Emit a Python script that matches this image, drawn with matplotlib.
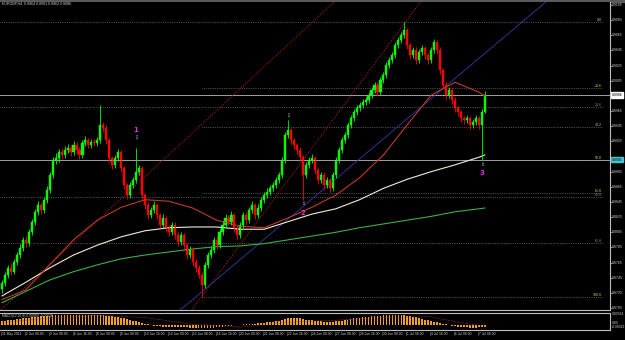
import numpy as np
import matplotlib
matplotlib.use("Agg")
import matplotlib.pyplot as plt
from matplotlib.patches import Rectangle

# ---------------- data (prices in pips, /10000) ----------------
close_pips = [8738, 8749, 8758, 8753, 8766, 8775, 8784, 8795, 8791, 8805,
              8819, 8832, 8841, 8834, 8848, 8861, 8881, 8900, 8903, 8911,
              8907, 8914, 8916, 8911, 8920, 8914, 8907, 8923, 8927, 8920,
              8924, 8923, 8927, 8947, 8943, 8927, 8903, 8894, 8903, 8911,
              8890, 8867, 8854, 8867, 8874, 8885, 8890, 8854, 8841, 8828,
              8834, 8841, 8828, 8815, 8824, 8811, 8805, 8815, 8801, 8792,
              8801, 8788, 8775, 8782, 8766, 8758, 8749, 8735, 8762, 8775,
              8782, 8795, 8788, 8805, 8815, 8824, 8819, 8828, 8811, 8801,
              8815, 8828, 8821, 8834, 8841, 8828, 8837, 8848, 8854, 8858,
              8863, 8867, 8874, 8881, 8900, 8933, 8940, 8927, 8920, 8914,
              8904, 8881, 8894, 8900, 8903, 8887, 8874, 8881, 8867, 8874,
              8863, 8881, 8900, 8914, 8927, 8933, 8947, 8956, 8964, 8969,
              8973, 8977, 8980, 8986, 8993, 9000, 8990, 9006, 9013, 9026,
              9032, 9039, 9052, 9059, 9065, 9072, 9052, 9039, 9046, 9032,
              9043, 9048, 9039, 9032, 9046, 9056, 9046, 9019, 9000, 8986,
              8993, 8980, 8969, 8964, 8956, 8953, 8956, 8947, 8951, 8956,
              8947, 8964, 8986]
high_pips = [8742, 8753, 8762, 8764, 8770, 8779, 8789, 8799, 8800, 8809,
             8823, 8836, 8846, 8844, 8852, 8866, 8885, 8905, 8910, 8915,
             8916, 8919, 8922, 8920, 8925, 8924, 8917, 8927, 8932, 8930,
             8928, 8928, 8931, 8973, 8951, 8946, 8930, 8906, 8907, 8915,
             8914, 8893, 8870, 8871, 8878, 8916, 8894, 8893, 8857, 8845,
             8839, 8846, 8844, 8831, 8829, 8827, 8814, 8819, 8818, 8805,
             8806, 8804, 8791, 8787, 8785, 8770, 8762, 8752, 8766, 8779,
             8787, 8799, 8800, 8809, 8820, 8829, 8828, 8833, 8831, 8814,
             8819, 8832, 8832, 8838, 8846, 8844, 8842, 8852, 8858, 8863,
             8867, 8872, 8878, 8885, 8904, 8937, 8953, 8943, 8930, 8923,
             8917, 8907, 8898, 8905, 8908, 8906, 8890, 8885, 8884, 8878,
             8877, 8885, 8904, 8918, 8931, 8938, 8951, 8960, 8968, 8973,
             8977, 8981, 8984, 8990, 8997, 9004, 9003, 9010, 9017, 9030,
             9036, 9043, 9056, 9063, 9070, 9083, 9075, 9055, 9050, 9049,
             9047, 9052, 9051, 9042, 9050, 9060, 9059, 9049, 9022, 9003,
             8997, 8996, 8983, 8972, 8967, 8959, 8960, 8959, 8955, 8960,
             8959, 8968, 8991]
low_pips = [8725, 8734, 8745, 8748, 8750, 8762, 8771, 8780, 8786, 8787,
            8801, 8815, 8828, 8829, 8830, 8844, 8857, 8877, 8895, 8898,
            8902, 8903, 8910, 8906, 8907, 8909, 8902, 8903, 8919, 8916,
            8916, 8919, 8919, 8923, 8938, 8922, 8898, 8889, 8890, 8899,
            8885, 8862, 8849, 8850, 8863, 8870, 8880, 8849, 8836, 8823,
            8824, 8830, 8823, 8810, 8811, 8806, 8800, 8801, 8796, 8787,
            8788, 8783, 8770, 8771, 8761, 8753, 8744, 8720, 8731, 8758,
            8771, 8778, 8783, 8784, 8801, 8811, 8814, 8815, 8806, 8796,
            8797, 8811, 8816, 8817, 8830, 8823, 8824, 8833, 8844, 8850,
            8854, 8859, 8863, 8870, 8877, 8896, 8929, 8922, 8915, 8909,
            8899, 8848, 8877, 8890, 8896, 8882, 8869, 8870, 8862, 8863,
            8858, 8859, 8877, 8896, 8910, 8923, 8929, 8943, 8952, 8960,
            8965, 8969, 8973, 8976, 8982, 8989, 8985, 8986, 9002, 9009,
            9022, 9028, 9035, 9048, 9055, 9061, 9047, 9034, 9035, 9027,
            9028, 9039, 9034, 9027, 9028, 9042, 9041, 9014, 8995, 8981,
            8982, 8975, 8964, 8959, 8951, 8948, 8949, 8942, 8943, 8947,
            8942, 8900, 8962]
first_open_pips = 8730

# moving averages sampled every 8 bars
ma_bars = [0, 8, 16, 24, 32, 40, 48, 56, 64, 72, 80, 88, 96, 104, 112, 120,
           128, 136, 144, 152, 160, 162]
ma_red_pips = [8716, 8729, 8762, 8795, 8821, 8838, 8848, 8846, 8837, 8821, 8813,
               8811, 8824, 8838, 8854, 8877, 8907, 8947, 8986, 9003, 8990, 8985]
ma_white_pips = [8721, 8739, 8758, 8775, 8788, 8799, 8807, 8811, 8812, 8812, 8809,
                 8809, 8819, 8829, 8836, 8848, 8863, 8875, 8885, 8894, 8904, 8907]
ma_green_pips = [8712, 8727, 8742, 8753, 8762, 8770, 8775, 8779, 8783, 8786, 8787,
                 8790, 8795, 8800, 8805, 8811, 8816, 8821, 8826, 8832, 8836, 8837]

# MACD histogram (units of 0.0001)
macd_hist = [12, 13, 14, 15, 16, 17, 18, 19, 20, 21, 22, 23, 24, 25, 26, 27,
             27, 28, 28, 29, 29, 30, 30, 30, 30, 30, 30, 30, 29, 29, 29, 28,
             28, 28, 28, 27, 26, 25, 24, 23, 21, 19, 17, 15, 13, 11, 9, 7,
             4, 2, 0, -2, -3, -4, -5, -5, -6, -6, -6, -7, -7, -7, -7, -8,
             -8, -8, -8, -9, -9, -9, -8, -8, -7, -6, -5, -4, -3, -2, -1, 0,
             1, 2, 2, 3, 3, 4, 5, 6, 7, 8, 9, 10, 11, 13, 15, 18,
             20, 21, 21, 20, 19, 18, 16, 15, 14, 13, 12, 11, 10, 9, 9, 10,
             11, 12, 13, 15, 16, 18, 19, 20, 21, 22, 23, 24, 25, 26, 27, 27,
             28, 28, 29, 29, 29, 29, 29, 28, 27, 26, 24, 22, 20, 18, 16, 14,
             12, 10, 8, 6, 4, 2, 0, -2, -4, -5, -6, -7, -7, -8, -8, -8,
             -7, -7, -6]
sig_bars = [0, 16, 32, 48, 64, 80, 96, 112, 128, 144, 152, 162]
macd_signal = [8, 20, 28, 22, 2, -6, 8, 14, 22, 24, 10, -4]

# price scale labels, fib levels, dates
price_ticks = [0.9105, 0.9085, 0.9065, 0.9045, 0.9025, 0.9005, 0.8985, 0.8965,
               0.8945, 0.8925, 0.8905, 0.8885, 0.8865, 0.8845, 0.8825, 0.8805,
               0.8785, 0.8765, 0.8745, 0.8725, 0.8705]
fib_yellow_levels = ["0.0", "23.6", "38.2", "50.0", "61.8", "100.0"]
fib_yellow_prices = [0.9083, 0.8995, 0.8944, 0.8901, 0.8857, 0.8720]
fib_grey_levels = ["23.6", "50.0", "61.8"]
fib_grey_prices = [0.8970, 0.8851, 0.8791]
date_labels = ["31 May 2011", "2 Jun 00:00", "3 Jun 08:00", "6 Jun 16:00",
               "8 Jun 00:00", "9 Jun 08:00", "10 Jun 16:00", "14 Jun 00:00",
               "15 Jun 08:00", "16 Jun 16:00", "20 Jun 00:00", "21 Jun 08:00",
               "22 Jun 16:00", "24 Jun 00:00", "27 Jun 08:00", "28 Jun 16:00",
               "30 Jun 00:00", "1 Jul 08:00", "4 Jul 16:00", "6 Jul 00:00",
               "7 Jul 08:00"]
wave_labels = ["1", "2", "3"]
wave_bars = [45, 101, 161]

# ---------------- preparation ----------------
close = np.array(close_pips) / 10000.0
high = np.array(high_pips) / 10000.0
low = np.array(low_pips) / 10000.0
opn = np.concatenate([[first_open_pips / 10000.0], close[:-1]])
n = len(close)
idx = np.arange(n)

FONT = "Liberation Sans"
W, H = 625, 340
fig = plt.figure(figsize=(W / 100, H / 100), dpi=100, facecolor="black")

def fx(px):
    return px / W

def fy(py):
    return 1 - py / H

# main panel: y from 2 to 310 px, x from 0 to 609.5 px
ax = fig.add_axes([0, fy(310), fx(609.5), (310 - 2) / H], facecolor="black")
bar_px = 2.98
x_left = (0 - 2) / bar_px
x_right = (609.5 - 2) / bar_px
ax.set_xlim(x_left, x_right)
ax.set_ylim(0.87024, 0.91090)
for s in ["top", "left"]:
    ax.spines[s].set_visible(False)
for s in ["right", "bottom"]:
    ax.spines[s].set_color("#bfbfbf")
    ax.spines[s].set_linewidth(0.8)
ax.set_xticks([])
ax.yaxis.tick_right()
ax.set_yticks(price_ticks)
ax.tick_params(axis="y", length=1.5, width=0.5, color="#bfbfbf", labelright=False)

GREEN = "#00ff00"
RED = "#ff0000"

# fib / horizontal lines
x_start_fib = 67
for lvl, p in zip(fib_yellow_levels, fib_yellow_prices):
    ax.hlines(p, x_start_fib, x_right - 2.5, colors="#8c8c8c", linestyles=(0, (1, 1.6)), lw=0.5)
    ax.text(x_right - 2.6, p, lvl, color="#d8d060", fontsize=2.6, family=FONT,
            ha="right", va="bottom")
for lvl, p in zip(fib_grey_levels, fib_grey_prices):
    ax.hlines(p, x_left, x_right - 2.5, colors="#8c8c8c", linestyles=(0, (1, 1.6)), lw=0.5)
    ax.text(x_right - 2.6, p, lvl, color="#8c8c8c", fontsize=2.6, family=FONT,
            ha="right", va="bottom")
ax.hlines(fib_yellow_prices[0], x_left, x_start_fib, colors="#8c8c8c", linestyles=(0, (1, 1.6)), lw=0.5)
# solid lines (current price, marked level)
ax.axhline(close[-1], color="#a0a0a0", lw=0.7)
ax.axhline(0.8901, color="#a0a0a0", lw=0.7)

# trend lines
ax.axline((32.2, 0.8821), (73.2, 0.8970), color="#b02020", lw=0.6, ls=(0, (1.5, 1.5)))
ax.axline((67, 0.8720), (113.4, 0.8966), color="#b02020", lw=0.6, ls=(0, (1.5, 1.5)))
ax.axline((97.7, 0.8828), (133.6, 0.8947), color="#3a3aa8", lw=0.6)

# moving averages
ax.plot(ma_bars, np.array(ma_green_pips) / 10000, color="#3cb043", lw=0.8)
ax.plot(ma_bars, np.array(ma_white_pips) / 10000, color="#f2ecd0", lw=0.8)
ax.plot(ma_bars, np.array(ma_red_pips) / 10000, color="#c0392b", lw=0.8)

# candles
up = close >= opn
colors = np.where(up, GREEN, RED)
ax.vlines(idx, low, high, colors=colors, lw=0.6)
ax.bar(idx, np.abs(close - opn), bottom=np.minimum(close, opn), width=0.7,
       color=colors, edgecolor=colors, lw=0.3)

# wave marks and arrows
for lab, b in zip(wave_labels, wave_bars):
    if lab == "1":
        ax.text(b, high[b] + 0.0010, "\u21e9", color="#dddddd", fontsize=3.5, ha="center", va="bottom")
        ax.text(b, high[b] + 0.0020, lab, color="#e030e0", fontsize=5, ha="center", va="bottom",
                fontweight="bold")
    else:
        ax.text(b, low[b] - 0.0002, "\u21e7", color="#dddddd", fontsize=3.5, ha="center", va="top")
        ax.text(b, low[b] - 0.0013, lab, color="#e030e0", fontsize=5, ha="center", va="top",
                fontweight="bold")
ax.text(96, high[96] + 0.0002, "\u21e9", color="#dddddd", fontsize=3.5, ha="center", va="bottom")

# title
fig.text(fx(2), fy(4), "EURGBP,H4  0.8964 0.8991 0.8962 0.8986",
         color="#d0d0d0", fontsize=2.6, family=FONT, ha="left", va="center")

# right price scale
for p in price_ticks:
    if abs(p - close[-1]) < 0.0006 or abs(p - 0.8901) < 0.0006:
        continue
    fig.text(fx(612), fy(5 + (0.9105 - p) * 7575), "%.4f" % p, color="#d0d0d0",
             fontsize=2.5, family=FONT, ha="left", va="center")
fig.text(fx(611.5), fy(5 + (0.9105 - close[-1]) * 7575), "%.4f" % close[-1], color="black",
         fontsize=2.5, family=FONT, ha="left", va="center",
         bbox=dict(boxstyle="square,pad=0.2", fc="white", ec="white"))
fig.text(fx(611.5), fy(5 + (0.9105 - 0.8901) * 7575), "0.8901", color="black",
         fontsize=2.5, family=FONT, ha="left", va="center",
         bbox=dict(boxstyle="square,pad=0.2", fc="#40c8d0", ec="#40c8d0"))

# MACD panel: y from 313 to 330 px
ax2 = fig.add_axes([0, fy(330), fx(609.5), (330 - 313) / H], facecolor="black")
ax2.set_xlim(x_left, x_right)
ax2.set_ylim(-0.00145, 0.0035)
ax2.spines["left"].set_visible(False)
for s in ["top", "right", "bottom"]:
    ax2.spines[s].set_color("#bfbfbf")
    ax2.spines[s].set_linewidth(0.8)
ax2.set_xticks([])
ax2.set_yticks([])
hist = np.array(macd_hist) / 10000.0
ax2.bar(idx, hist, width=0.55, color="#f0a020", edgecolor="none")
ax2.plot(sig_bars, np.array(macd_signal) / 10000.0, color="#c04040", lw=0.5, ls=(0, (1, 1.2)))
ax2.text(0.003, 0.93, "MACD(12,26,9) 0.00009 -0.00016", transform=ax2.transAxes,
         color="#bfbfbf", fontsize=2.4, family=FONT, ha="left", va="top")
fig.text(fx(611.5), fy(314), "0.00324", color="#d0d0d0", fontsize=2.4, family=FONT,
         ha="left", va="center")
fig.text(fx(611.5), fy(323), "0.00", color="#d0d0d0", fontsize=2.4, family=FONT,
         ha="left", va="center")
fig.text(fx(611.5), fy(327), "-0.00322", color="#d0d0d0", fontsize=2.4, family=FONT,
         ha="left", va="center")

# date labels
for k, lab in enumerate(date_labels):
    b = 8 * k
    xd = fx(1 + bar_px * b)
    fig.text(xd, fy(334), "|" + lab, color="#d0d0d0", fontsize=2.4, family=FONT,
             ha="left", va="center")

# top window strip
fig.patches.append(Rectangle((0, fy(2)), 1, 2 / H, transform=fig.transFigure,
                             color="#5a5a5a", zorder=-1))

fig.savefig("out.png", dpi=100, facecolor="black")
